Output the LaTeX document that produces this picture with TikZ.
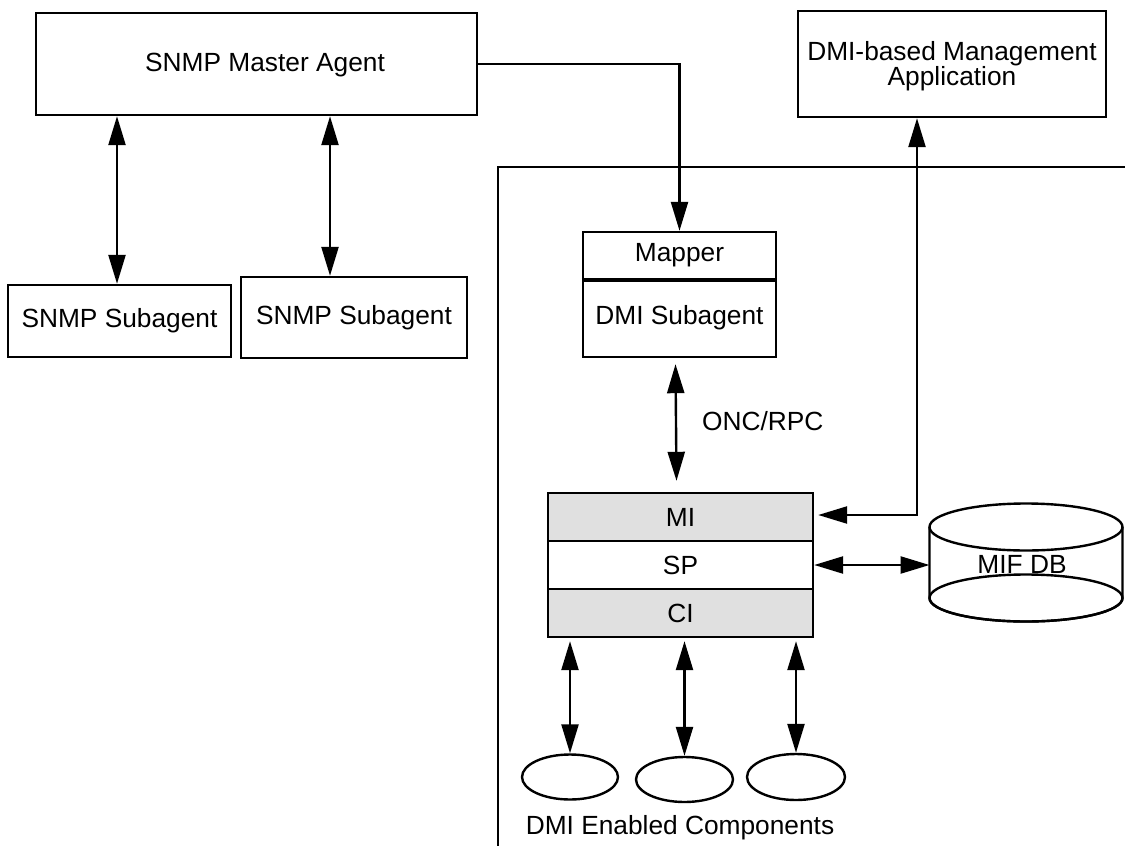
\documentclass[tikz,border=0pt]{standalone}
\usepackage{fontspec}
\setmainfont{Liberation Sans}
\usetikzlibrary{arrows.meta,calc,shapes.geometric}
\newcommand\diagfont{\fontsize{26.3}{25}\selectfont\lineskiplimit=-30pt\relax\lineskip=0pt\relax}
\begin{document}
\begin{tikzpicture}[x=1pt,y=-1pt,line width=2.4pt,
  txt/.style={font=\diagfont, inner sep=0pt},
  box/.style={draw, line width=2.4pt, inner sep=0pt, font=\diagfont, align=center},
  layer/.style={box, fill=black!12, minimum width=265pt, minimum height=48pt},
  comp/.style={draw, ellipse, line width=2.4pt, inner sep=0pt, minimum width=96pt, minimum height=45pt},
  tw/.style={{Triangle[length=29pt,width=17pt]}-{Triangle[length=29pt,width=17pt]}},
  tone/.style={-{Triangle[length=29pt,width=17pt]}}
]
\useasboundingbox (0,0) rectangle (1125,846);

% container
\draw (498,846) -- (498,167) -- (1125,167);

% SNMP side
\node[box, minimum width=441pt, minimum height=102pt] (ma) at (256.5,64) {};
\node[txt] (mat) at (265,65) {SNMP Master Agent};
\node[box, minimum width=223pt, minimum height=72pt] (sa1) at (119.5,321) {SNMP Subagent};
\node[box, minimum width=226pt, minimum height=81pt] (sa2) at (354,317.5) {SNMP Subagent};

% DMI application
\node[box, minimum width=308pt, minimum height=106pt] (app) at (952,64) {};
\node[txt, align=center] (appt) at (952,66) {DMI-based Management\\Application};

% Mapper / DMI Subagent
\node[box, minimum width=193pt, minimum height=47pt] (mp) at (679.5,255.5) {Mapper};
\node[box, minimum width=193pt, minimum height=78pt] (ds) at (679.5,318) {DMI Subagent};
\draw[line width=4pt] (mp.south west) -- (mp.south east);

% Stack
\node[layer] (mi) at (680.5,517) {MI};
\node[box, minimum width=265pt, minimum height=48pt] (sp) at (680.5,565) {SP};
\node[layer] (ci) at (680.5,613) {CI};

% MIF DB cylinder
\draw[fill=white] (929.5,527) -- (929.5,598) arc[start angle=180,end angle=360,x radius=96.5,y radius=-23.5] -- (1122.5,527);
\draw (1026,598) ellipse [x radius=96.5, y radius=23.5];
\draw (1026,527) ellipse [x radius=96.5, y radius=23.5];
\node[txt] (db) at (1022,564) {MIF DB};
\coordinate (dbw) at (929.5,565);

% components
\node[comp] (e1) at (570,777) {};
\node[comp, minimum width=97pt] (e2) at (684.5,779.5) {};
\node[comp, minimum width=98pt, minimum height=46pt] (e3) at (796,777) {};
\node[txt] (ec) at (680,828) {DMI Enabled Components};

% labels
\node[txt, anchor=west] (onc) at (701,421) {ONC/RPC};

% connectors
\draw[tw] ([xshift=-2.5pt]sa1.north) -- ([xshift=-2.5pt]sa1.north |- ma.south);
\draw[tw] ([xshift=-24pt]sa2.north) -- ([xshift=-24pt]sa2.north |- ma.south);
\draw[tone] (ma.east) -| (mp.north);
\draw[tw] ([xshift=-4pt,yshift=-6pt]ds.south) -- ([xshift=-4pt,yshift=11pt]mi.north);
\draw[tw] ([xshift=-35pt]app.south) |- ([xshift=4pt,yshift=2pt]mi.east);
\draw[tw] (sp.east) -- (dbw);
\draw[tw] ([yshift=-3pt]e1.north |- ci.south) -- (e1.north);
\draw[tw] ([yshift=-3pt]e2.north |- ci.south) -- (e2.north);
\draw[tw] ([yshift=-3pt]e3.north |- ci.south) -- (e3.north);
\end{tikzpicture}
\end{document}
